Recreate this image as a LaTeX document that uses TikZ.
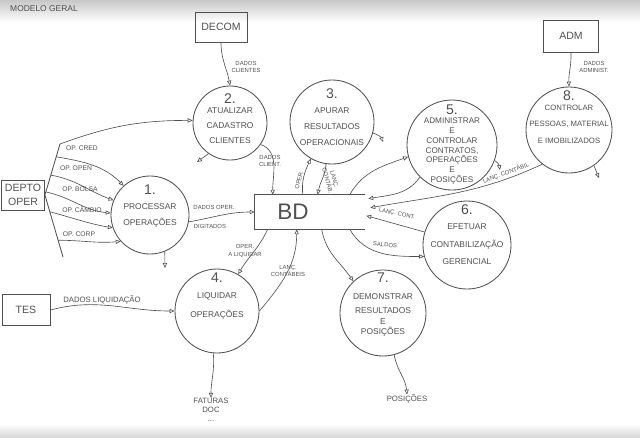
\documentclass[tikz,border=0pt]{standalone}
\usepackage{fontspec}
\setmainfont{Liberation Sans}
\usetikzlibrary{arrows.meta,calc}
\definecolor{pencil}{RGB}{80,80,80}
\newcommand{\nro}[1]{{\fontsize{10}{10}\selectfont #1}}
\tikzset{
  proc/.style={circle,draw=pencil,semithick,inner sep=0pt},
  ptext/.style={text=pencil,align=center,inner sep=0pt,font=\fontsize{6}{7.5}\selectfont},
  ext/.style={rectangle,draw=pencil,semithick,inner sep=0pt,align=center,text=pencil,
    font=\fontsize{7.5}{10}\selectfont},
  flow/.style={draw=pencil,line width=0.45pt,-{Triangle[open,length=3.5pt,width=3pt]}},
  lbl/.style={text=pencil,align=center,inner sep=0pt,font=\fontsize{4.2}{5}\selectfont},
  oplbl/.style={lbl,font=\fontsize{4.8}{5.5}\selectfont}
}
\begin{document}
\begin{tikzpicture}[x=0.025cm,y=0.025cm]
  \useasboundingbox (0,0) rectangle (640,-437);
  \shade[top color=black!22,bottom color=white] (0,0) rectangle (640,-22);
  \shade[top color=white,bottom color=black!15] (0,-424) rectangle (640,-437);

  \node[lbl,font=\fontsize{6}{6}\selectfont] (titulo) at (44,-9) {MODELO GERAL};

  % entidades externas
  \node[ext,minimum width=1.3cm,minimum height=0.75cm] (decom) at (221,-27) {DECOM};
  \node[ext,minimum width=1.375cm,minimum height=0.8cm] (adm) at (571,-36) {ADM};
  \node[ext,minimum width=1.075cm,minimum height=0.75cm] (depto) at (23,-195) {DEPTO\\OPER};
  \node[ext,minimum width=1.2cm,minimum height=0.775cm] (tes) at (26,-310) {TES};

  % processos
  \node[proc,minimum size=1.95cm,label={[ptext,yshift=0.22cm]center:{\nro{1.}\\[3pt] PROCESSAR\\[4pt] OPERAÇÕES}}] (p1) at (150,-215) {};
  \node[proc,minimum size=1.85cm,label={[ptext,yshift=0.12cm]center:{\nro{2.}\\ ATUALIZAR\\[3pt] CADASTRO\\[3pt] CLIENTES}}] (p2) at (230,-123) {};
  \node[proc,minimum size=2.1cm,label={[ptext,yshift=0.12cm]center:{\nro{3.}\\[3pt] APURAR\\[4pt] RESULTADOS\\[4pt] OPERACIONAIS}}] (p3) at (332,-122) {};
  \node[proc,minimum size=2.1cm,label={[ptext,yshift=0.37cm]center:{\nro{4.}\\[4pt] LIQUIDAR\\[6pt] OPERAÇÕES}}] (p4) at (217,-311) {};
  \node[proc,minimum size=2.25cm,label={[ptext,font=\fontsize{5.8}{6.9}\selectfont,yshift=0.02cm]center:{\nro{5.}\\ ADMINISTRAR\\ E\\ CONTROLAR\\ CONTRATOS,\\ OPERAÇÕES\\ E\\ POSIÇÕES}}] (p5) at (452,-145) {};
  \node[proc,minimum size=2.2cm,label={[ptext,yshift=0.25cm]center:{\nro{6.}\\[3pt] EFETUAR\\[5pt] CONTABILIZAÇÃO\\[5pt] GERENCIAL}}] (p6) at (467,-245) {};
  \node[proc,minimum size=2.15cm,label={[ptext,yshift=0.2cm]center:{\nro{7.}\\[4pt] DEMONSTRAR\\[3pt] RESULTADOS\\ E\\ POSIÇÕES}}] (p7) at (383,-313) {};
  \node[proc,minimum size=2.15cm,label={[ptext,font=\fontsize{5.5}{7}\selectfont,yshift=0.32cm]center:{\nro{8.}\\ CONTROLAR\\[5pt] PESSOAS, MATERIAL\\[5pt] E IMOBILIZADOS}}] (p8) at (569,-130) {};

  % deposito de dados
  \node[text=pencil,inner sep=0pt,minimum width=2.75cm,minimum height=0.85cm,text width=2.75cm,
    align=left,font=\fontsize{16}{16}\selectfont] (bd) at (310,-212) {\hspace*{16pt}BD};
  \draw[pencil,semithick] (bd.north east) -- (bd.north west) -- (bd.south west) -- (bd.south east);

  % saidas
  \node[lbl,font=\fontsize{5.5}{6.5}\selectfont] (fat) at (211,-410) {FATURAS\\DOC\\...};
  \node[lbl,font=\fontsize{5.5}{6.5}\selectfont] (pos) at (407,-399) {POSIÇÕES};

  % chave da DEPTO OPER
  \coordinate (brT) at (60,-144);
  \coordinate (brB) at (63,-257);
  \draw[pencil,semithick] (brT) -- (depto.east) -- (brB);

  \draw[flow] (brT) to[out=20,in=180] (p2.176);
  \draw[flow] ($(depto.east)!.75!(brT)$) to[out=-10,in=135] (p1.132);
  \draw[flow] ($(depto.east)!.39!(brT)$) to[out=-10,in=160] (p1.158);
  \draw[flow] ($(depto.east)!.06!(brT)$) to[out=-12,in=175] (p1.177);
  \draw[flow] ($(depto.east)!.27!(brB)$) to[out=-15,in=170] (p1.199);
  \draw[flow] ($(depto.east)!.73!(brB)$) to[out=0,in=185] (p1.222);
  \node[oplbl] (lcred) at (82,-148) {OP. CRED};
  \node[oplbl] (lopen) at (76,-168) {OP. OPEN};
  \node[oplbl] (lbolsa) at (80,-189) {OP. BOLSA};
  \node[oplbl] (lcambio) at (82,-210) {OP. CÂMBIO};
  \node[oplbl] (lcorp) at (79,-234) {OP. CORP};

  % fluxos
  \draw[flow] (decom.south) to[out=-90,in=100] (p2.north);
  \node[lbl] (ldecom) at (246,-67) {DADOS\\CLIENTES};
  \draw[flow] (adm.south) to[out=-88,in=92] (p8.north);
  \node[lbl] (ladm) at (594,-67) {DADOS\\ADMINIST.};

  \draw[flow] (p2.-35) to[out=-20,in=90] ($(bd.north west)+(18,0)$);
  \node[lbl] (lcli) at (270,-161) {DADOS\\CLIENT.};
  \draw[flow] (p1.-10) to[out=10,in=180] (bd.west);
  \node[lbl] (ldig1) at (214,-207) {DADOS OPER.};
  \node[lbl] (ldig2) at (210,-226) {DIGITADOS};

  \draw[flow] ($(bd.north west)+(48,0)$) to[out=95,in=-115] (p3.240);
  \node[lbl,rotate=75] (loper) at (299,-180) {OPER.};
  \draw[flow] (p3.262) to[out=-95,in=80] ($(bd.north west)+(63,0)$);
  \node[lbl,rotate=-75] (lres) at (331,-180) {LANÇ.\\CONTÁB.};

  \draw[flow] ($(bd.north west)+(95,0)$) to[out=60,in=200] (p5.195);
  \draw[flow] (p5.225) to[out=235,in=10] ($(bd.north east)+(3,-4)$);
  \draw[flow] (p8.232) to[out=205,in=10] ($(bd.north east)+(5,-13)$);
  \node[lbl,rotate=20] (l8) at (506,-173) {LANÇ. CONTÁBIL};

  \draw[flow] (p6.163) -- ($(bd.north east)+(1,-21)$);
  \node[lbl,rotate=-12] (l6) at (397,-214) {LANÇ. CONT.};
  \draw[flow] ($(bd.south west)+(95,0)$) to[out=-60,in=180] (p6.195);
  \node[lbl,rotate=-5] (lsal) at (385,-245) {SALDOS};

  \draw[flow] ($(bd.south west)+(67,0)$) to[out=-80,in=125] (p7.133);
  \draw[flow] ($(bd.south west)+(13,0)$) to[out=-115,in=60] (p4.60);
  \node[lbl] (lliq) at (245,-251) {OPER.\\A LIQUIDAR};
  \draw[flow] (p4.0) to[out=50,in=-90] ($(bd.south west)+(42,0)$);
  \node[lbl] (lcont) at (288,-271) {LANÇ.\\CONTÁBEIS};

  \draw[flow] (tes.east) to[out=15,in=180] (p4.180);
  \node[oplbl,font=\fontsize{5.5}{6}\selectfont] (ltes) at (102,-300) {DADOS LIQUIDAÇÃO};

  \draw[flow] (p4.-95) to[out=-85,in=90] (fat.north);
  \draw[flow] (p7.-75) to[out=-80,in=95] (pos.north);

  % setas soltas
  \coordinate (s1) at (165,-268);
  \coordinate (s2) at (197,-162);
  \coordinate (s3) at (383,-142);
  \coordinate (s5) at (500,-170);
  \coordinate (s8) at (599,-178);
  \draw[flow] (p1.-68) -- (s1);
  \draw[flow] (p2.235) -- (s2);
  \draw[flow] (p3.-15) to[out=-20,in=110] (s3);
  \draw[flow] (p5.-20) to[out=-30,in=100] (s5);
  \draw[flow] (p8.-55) -- (s8);
\end{tikzpicture}
\end{document}
